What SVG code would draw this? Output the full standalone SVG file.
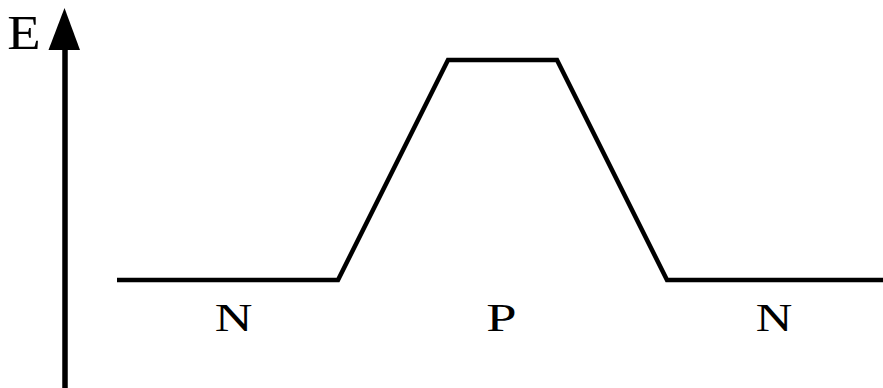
<svg xmlns="http://www.w3.org/2000/svg" width="883" height="388" viewBox="0 0 883 388">
<style>
.t{font-family:"Liberation Serif","Times New Roman",serif;fill:#000;text-anchor:middle}
.ln{fill:none;stroke:#000;stroke-linejoin:miter}
</style>
<rect width="883" height="388" fill="#fff"/>
<g id="axis">
<line class="ln" x1="65" y1="388" x2="65" y2="48" stroke-width="5.5"/>
<polygon points="64.5,8 48.5,50 80,50" fill="#000"/>
</g>
<g id="label-E"><text class="t" font-size="48" transform="translate(24,49) scale(1.14,1)">E</text></g>
<g id="connectors">
<polyline class="ln" stroke-width="4.5" points="117,280 338,280 448,60 557,60 667,280 883,280"/>
</g>
<g id="label-N1"><text class="t" font-size="39" transform="translate(233.5,331) scale(1.34,1)">N</text></g>
<g id="label-P"><text class="t" font-size="39" transform="translate(501.5,331) scale(1.4,1)">P</text></g>
<g id="label-N2"><text class="t" font-size="39" transform="translate(774,331) scale(1.3,1)">N</text></g>
</svg>
